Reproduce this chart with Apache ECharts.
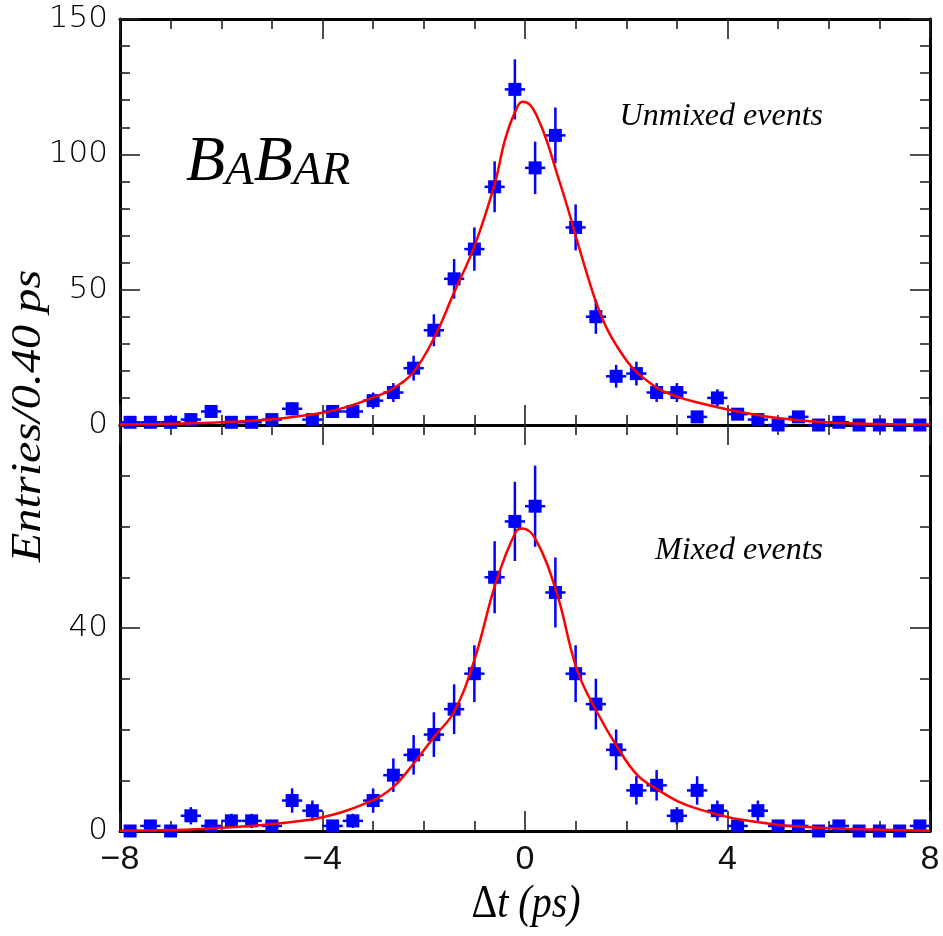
<!DOCTYPE html>
<html>
<head>
<meta charset="utf-8">
<script src="https://cdn.jsdelivr.net/npm/echarts@6/dist/echarts.min.js"></script>
<style>
html,body{margin:0;padding:0;background:#fff;}
#chart{width:943px;height:936px;}
</style>
</head>
<body>
<div id="chart"></div>
<script>
// Bin centres (0.40 ps bins)
const binCenters = [-7.8,-7.4,-7.0,-6.6,-6.2,-5.8,-5.4,-5.0,-4.6,-4.2,-3.8,-3.4,-3.0,-2.6,-2.2,-1.8,-1.4,-1.0,-0.6,-0.2,
                    0.2,0.6,1.0,1.4,1.8,2.2,2.6,3.0,3.4,3.8,4.2,4.6,5.0,5.4,5.8,6.2,6.6,7.0,7.4,7.8];
// Unmixed events (top panel)
const unmixedCounts = [1,1,1,2,5,1,1,2,6,2,5,5,9,12,21,35,54,65,88,124,
                       95,107,73,40,18,19,12,12,3,10,4,2,0,3,0,1,0,0,0,0];
const unmixedErrors = [1,1,1,1.4,2.2,1,1,1.4,2.4,1.4,2.2,2.2,3,3.5,4.6,5.9,7.3,8,9.4,11.1,
                       9.7,10.3,8.5,6.3,4.2,4.4,3.5,3.5,1.7,3.2,2,1.4,0,1.7,0,1,0,0,0,0];
// Mixed events (bottom panel)
const mixedCounts = [0,1,0,3,1,2,2,1,6,4,1,2,6,11,15,19,24,31,50,61,
                     64,47,31,25,16,8,9,3,8,4,1,4,1,1,0,1,0,0,0,1];
const mixedErrors = [0,1,0,1.7,1,1.4,1.4,1,2.4,2,1,1.4,2.4,3.3,3.9,4.4,4.9,5.6,7.1,7.8,
                     8,6.9,5.6,5,4,2.8,3,1.7,2.8,2,1,2,1,1,0,1,0,0,0,1];
// Fit curves
const unmixedFitT = [-8,-7,-6,-5,-4,-3.5,-3,-2.6,-2.2,-1.8,-1.4,-1.0,-0.6,-0.4,-0.2,-0.05,0.1,0.25,0.43,0.63,0.83,1.03,1.23,1.43,1.62,1.82,2.02,2.22,2.63,3.03,3.43,3.82,4.22,5.03,5.83,6.64,8];
const unmixedFitV = [0.2,0.45,1.0,2.1,4.5,6.8,10.1,13.5,19.7,32,49,66,89,105,115.5,119.4,118.3,113.5,105,93,81,68,55.5,44,35.5,29,23.5,19.3,13.5,10.3,8.2,6.5,4.9,2.5,1.1,0.5,0.15];
const mixedFitT = [-8,-7,-6.2,-5,-4,-3,-2.6,-2.2,-1.8,-1.4,-1.0,-0.58,-0.18,-0.05,0.22,0.63,1.03,1.43,1.82,2.22,2.63,3.03,3.43,3.82,4.22,5.03,5.83,6.64,8];
const mixedFitV = [0.05,0.2,0.5,1.4,2.7,6.1,8.7,13.3,18.5,23.5,33.7,48.8,59,59.6,57.3,46.8,31.7,23.3,16.6,11,8.1,5.8,4.3,3.2,2.3,1.2,0.65,0.33,0.05];
// Axis ticks
const xTickLabels = [-8,-4,0,4,8];
const unmixedYTicks = [0,50,100,150];
const mixedYTicks = [0,40];

const chart = echarts.init(document.getElementById('chart'));
const BLUE = '#0000ff';
const RED = '#ff0000';

function renderPoint(params, api) {
  const x = api.value(0), y = api.value(1), e = api.value(2);
  const c = api.coord([x, y]);
  const l = api.coord([x - 0.2, y]);
  const r = api.coord([x + 0.2, y]);
  const s = 13;
  const children = [
    {type:'line', shape:{x1:l[0], y1:c[1], x2:r[0], y2:c[1]}, style:{stroke:BLUE, lineWidth:2.5}},
    {type:'rect', shape:{x:c[0]-s/2, y:c[1]-s/2, width:s, height:s}, style:{fill:BLUE}}
  ];
  if (e > 0) {
    const t = api.coord([x, y + e]);
    const b = api.coord([x, y - e]);
    children.push({type:'line', shape:{x1:c[0], y1:t[1], x2:c[0], y2:b[1]}, style:{stroke:BLUE, lineWidth:2.5}});
  }
  return {type:'group', children};
}

function xAxisCfg(grid, pos, showLabel) {
  return {
    type:'value', gridIndex:grid, position:pos, min:-8, max:8, interval:4,
    axisLine:{show:true, onZero:false, lineStyle:{color:'#000', width:3}},
    axisTick:{show:true, inside:true, length:20, lineStyle:{color:'#222', width:1.6}},
    minorTick:{show:true, splitNumber:4, length:10, lineStyle:{color:'#222', width:1.6}},
    splitLine:{show:false}, minorSplitLine:{show:false},
    axisLabel:{show:showLabel, margin:12, fontFamily:'Liberation Sans', fontSize:34, fontWeight:300, color:'#111',
      formatter: v => xTickLabels.indexOf(v) >= 0 ? (v < 0 ? '\u2212' + Math.abs(v) : String(v)) : ''}
  };
}
function yAxisCfg(grid, pos, max, interval, minorSplit, ticks, showLabel) {
  return {
    type:'value', gridIndex:grid, position:pos, min:0, max:max, interval:interval,
    axisLine:{show:true, onZero:false, lineStyle:{color:'#000', width:3}},
    axisTick:{show:true, inside:true, length:20, lineStyle:{color:'#222', width:1.6}},
    minorTick:{show:true, splitNumber:minorSplit, length:10, lineStyle:{color:'#222', width:1.6}},
    splitLine:{show:false}, minorSplitLine:{show:false},
    axisLabel:{show:showLabel, margin:12, fontFamily:'DejaVu Sans', fontSize:31, fontWeight:200, color:'#000',
      formatter: v => ticks.indexOf(v) >= 0 ? String(v) : ''}
  };
}

const option = {
  backgroundColor:'#fff',
  animation:false,
  grid:[
    {left:120, right:13, top:19, height:406},
    {left:120, right:13, top:425, height:406}
  ],
  xAxis:[
    xAxisCfg(0,'bottom',false),
    xAxisCfg(0,'top',false),
    xAxisCfg(1,'bottom',true),
    xAxisCfg(1,'top',false)
  ],
  yAxis:[
    yAxisCfg(0,'left',150,50,5,unmixedYTicks,true),
    yAxisCfg(0,'right',150,50,5,unmixedYTicks,false),
    yAxisCfg(1,'left',80,40,4,mixedYTicks,true),
    yAxisCfg(1,'right',80,40,4,mixedYTicks,false)
  ],
  series:[
    {type:'custom', xAxisIndex:0, yAxisIndex:0, renderItem:renderPoint, z:5,
     data: binCenters.map((b,i)=>[b, unmixedCounts[i], unmixedErrors[i]])},
    {type:'custom', xAxisIndex:2, yAxisIndex:2, renderItem:renderPoint, z:5,
     data: binCenters.map((b,i)=>[b, mixedCounts[i], mixedErrors[i]])},
    {type:'line', xAxisIndex:0, yAxisIndex:0, smooth:0.4, showSymbol:false, symbol:'none', z:10,
     lineStyle:{color:RED, width:2.5}, data: unmixedFitT.map((t,i)=>[t, unmixedFitV[i]])},
    {type:'line', xAxisIndex:2, yAxisIndex:2, smooth:0.4, showSymbol:false, symbol:'none', z:10,
     lineStyle:{color:RED, width:2.5}, data: mixedFitT.map((t,i)=>[t, mixedFitV[i]])}
  ],
  graphic:[
    {type:'text', left:186, top:131, z:20,
     style:{text:'{a|B}{b|A}{a|B}{b|AR}', fill:'#000',
       rich:{
         a:{fontFamily:'Liberation Serif', fontStyle:'italic', fontSize:64, lineHeight:64, verticalAlign:'bottom', fill:'#000'},
         b:{fontFamily:'Liberation Serif', fontStyle:'italic', fontSize:47, lineHeight:53, verticalAlign:'bottom', fill:'#000'}
       }}},
    {type:'text', x:823, y:117, z:20,
     style:{text:'Unmixed events', fill:'#000', font:'italic 32px "Liberation Serif"', textAlign:'right', textVerticalAlign:'middle'}},
    {type:'text', x:823, y:551, z:20,
     style:{text:'Mixed events', fill:'#000', font:'italic 32px "Liberation Serif"', textAlign:'right', textVerticalAlign:'middle'}},
    {type:'text', x:29, y:416, rotation:Math.PI/2, scaleX:1.15, z:20,
     style:{text:'Entries/0.40 ps', fill:'#000', font:'italic 42px "Liberation Serif"', textAlign:'center', textVerticalAlign:'middle'}},
    {type:'text', x:526, y:905, scaleY:1.15, z:20,
     style:{text:'{d|\u0394}{i|t (ps)}', fill:'#000', textAlign:'center', textVerticalAlign:'middle',
       rich:{
         d:{fontFamily:'Liberation Serif', fontSize:40, fill:'#000'},
         i:{fontFamily:'Liberation Serif', fontStyle:'italic', fontSize:40, fill:'#000'}
       }}}
  ]
};
chart.setOption(option);
</script>
</body>
</html>
